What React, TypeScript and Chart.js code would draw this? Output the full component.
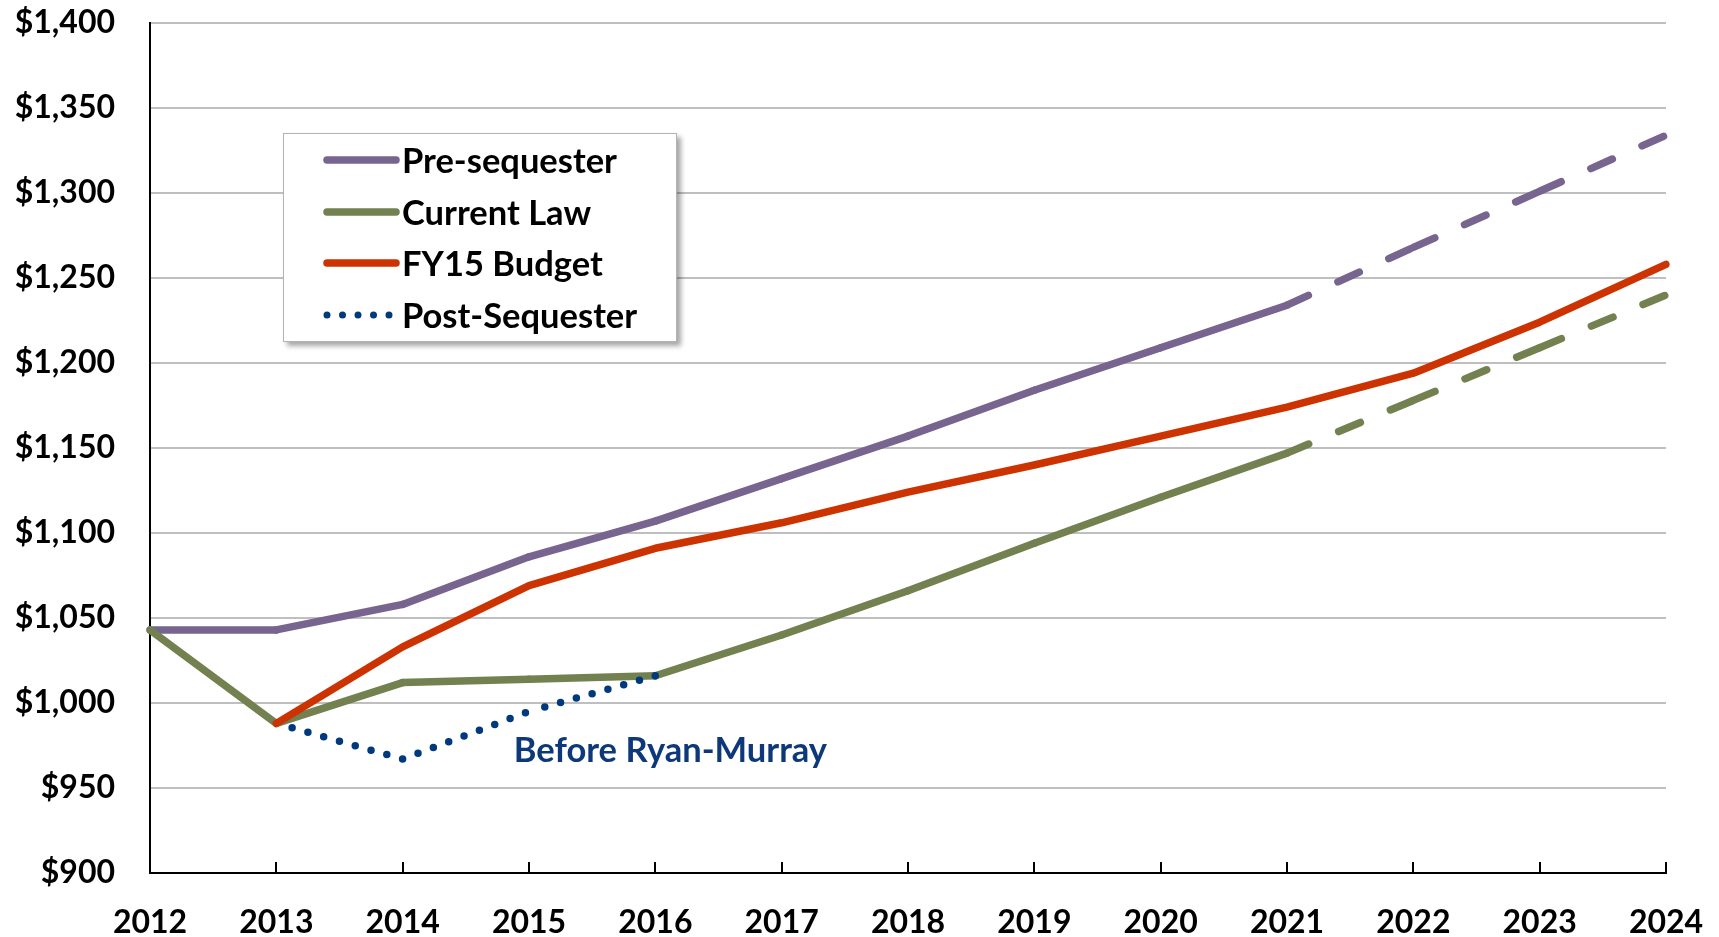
import React, { useEffect, useRef } from 'react';
import { Chart, registerables } from 'chart.js';

Chart.register(...registerables);

// ---- data ----
const years = ['2012', '2013', '2014', '2015', '2016', '2017', '2018', '2019', '2020', '2021', '2022', '2023', '2024'];
const preSequester = [1043, 1043, 1058, 1086, 1107, 1132, 1157, 1184, 1209, 1234, 1268, 1301, 1334];
const currentLaw = [1043, 988, 1012, 1014, 1016, 1040, 1066, 1094, 1121, 1147, 1178, 1209, 1240];
const fy15Budget = [null, 988, 1033, 1069, 1091, 1106, 1124, 1140, 1157, 1174, 1194, 1224, 1258];
const postSequester = [null, 988, 967, 995, 1016, null, null, null, null, null, null, null, null];
const projectionStartIndex = 9; // dashed from 2021 onward
const yMin = 900;
const yMax = 1400;
const yStep = 50;
const annotationText = 'Before Ryan-Murray';
const annotationCategory = 2.88;
const annotationValue = 972;

const legendItems = [
  { label: 'Pre-sequester', color: '#77648F', dotted: false },
  { label: 'Current Law', color: '#72814F', dotted: false },
  { label: 'FY15 Budget', color: '#CC3300', dotted: false },
  { label: 'Post-Sequester', color: '#003A7D', dotted: true },
];

const FONT = 'Lato, "Open Sans", sans-serif';
const LW = 7.5;

const decorPlugin = {
  id: 'decor',
  afterDraw(chart: any) {
    const ctx = chart.ctx;
    const x = chart.scales.x;
    const y = chart.scales.y;
    const area = chart.chartArea;
    ctx.save();
    ctx.strokeStyle = '#000';
    ctx.lineWidth = 2;
    for (let i = 1; i < years.length; i++) {
      const px = Math.round(x.getPixelForValue(i));
      ctx.beginPath();
      ctx.moveTo(px, area.bottom);
      ctx.lineTo(px, area.bottom - 11);
      ctx.stroke();
    }
    ctx.fillStyle = '#0D3879';
    ctx.font = `bold 34.5px ${FONT}`;
    ctx.textAlign = 'left';
    ctx.textBaseline = 'middle';
    ctx.fillText(annotationText, x.getPixelForValue(annotationCategory), y.getPixelForValue(annotationValue));
    ctx.restore();
  },
};

const zeroPadding = (s: any) => {
  s.paddingTop = 0;
  s.paddingBottom = 0;
  s.paddingLeft = 0;
  s.paddingRight = 0;
};

export default function App() {
  const canvasRef = useRef<HTMLCanvasElement | null>(null);

  useEffect(() => {
    if (!canvasRef.current) return;
    const dashProjection = (ctx: any) => (ctx.p0DataIndex >= projectionStartIndex ? [23.5, 32.5] : undefined);
    // a distinct (negligible) offset per segment makes each dashed segment restart its pattern at the data point
    const perSegmentOffset = (ctx: any) => ctx.p0DataIndex * 0.001;
    const common = {
      borderWidth: LW,
      borderCapStyle: 'round',
      borderJoinStyle: 'round',
      pointRadius: 0,
      pointHoverRadius: 0,
    };
    const chart = new Chart(canvasRef.current, {
      type: 'line',
      data: {
        labels: years,
        datasets: [
          {
            ...common,
            label: legendItems[0].label,
            data: preSequester,
            borderColor: legendItems[0].color,
            order: 4,
            segment: { borderDash: dashProjection, borderDashOffset: perSegmentOffset },
          },
          {
            ...common,
            label: legendItems[1].label,
            data: currentLaw,
            borderColor: legendItems[1].color,
            order: 3,
            segment: { borderDash: dashProjection, borderDashOffset: perSegmentOffset },
          },
          {
            ...common,
            label: legendItems[2].label,
            data: fy15Budget,
            borderColor: legendItems[2].color,
            order: 2,
          },
          {
            ...common,
            label: legendItems[3].label,
            data: postSequester,
            borderColor: legendItems[3].color,
            borderDash: [0, 16.4],
            order: 1,
            segment: { borderDashOffset: perSegmentOffset },
          },
        ],
      } as any,
      options: {
        animation: false,
        responsive: false,
        maintainAspectRatio: false,
        layout: { padding: { left: 0, top: 23, right: 53, bottom: 0 } },
        plugins: { legend: { display: false }, tooltip: { enabled: false } },
        events: [],
        scales: {
          x: {
            type: 'category',
            offset: false,
            grid: { display: true, drawOnChartArea: false, drawTicks: false },
            border: { display: true, color: '#000', width: 2 },
            ticks: {
              color: '#000',
              font: { family: FONT, size: 32, weight: 'bold' },
              padding: 30,
              maxRotation: 0,
              autoSkip: false,
            },
            afterFit: (s: any) => {
              s.height = 64;
              zeroPadding(s);
            },
          },
          y: {
            min: yMin,
            max: yMax,
            grid: { color: '#BFBFBF', lineWidth: 2, drawTicks: false },
            border: { display: true, color: '#000', width: 2 },
            ticks: {
              stepSize: yStep,
              color: '#000',
              font: { family: FONT, size: 32, weight: 'bold' },
              padding: 35,
              callback: (v: any) => '$' + Number(v).toLocaleString('en-US'),
            },
            afterFit: (s: any) => {
              s.width = 150;
              zeroPadding(s);
            },
          },
        },
      } as any,
      plugins: [decorPlugin],
    });
    return () => chart.destroy();
  }, []);

  return (
    <div style={{ position: 'absolute', left: 0, top: 0, width: 1719, height: 937, background: '#fff' }}>
      <canvas ref={canvasRef} width={1719} height={937} style={{ display: 'block' }} />
      <div
        style={{
          position: 'absolute',
          left: 283,
          top: 133,
          width: 394,
          height: 209,
          boxSizing: 'border-box',
          border: '1.5px solid #B3B3B3',
          background: '#fff',
          boxShadow: '4px 4px 5px rgba(0,0,0,0.35)',
        }}
      >
        {legendItems.map((item, i) => (
          <div
            key={item.label}
            style={{
              position: 'absolute',
              left: 38,
              top: 6 + i * 51.7,
              height: 40,
              display: 'flex',
              alignItems: 'center',
              whiteSpace: 'nowrap',
            }}
          >
            <svg width={78} height={12} style={{ display: 'block' }}>
              {item.dotted ? (
                <line x1={5} y1={6} x2={78} y2={6} stroke={item.color} strokeWidth={7} strokeLinecap="round" strokeDasharray="0 15.5" />
              ) : (
                <line x1={5} y1={6} x2={74} y2={6} stroke={item.color} strokeWidth={7.5} strokeLinecap="round" />
              )}
            </svg>
            <span
              style={{
                marginLeft: 2,
                font: `bold 34.5px ${FONT}`,
                lineHeight: '40px',
                color: '#000',
              }}
            >
              {item.label}
            </span>
          </div>
        ))}
      </div>
    </div>
  );
}
